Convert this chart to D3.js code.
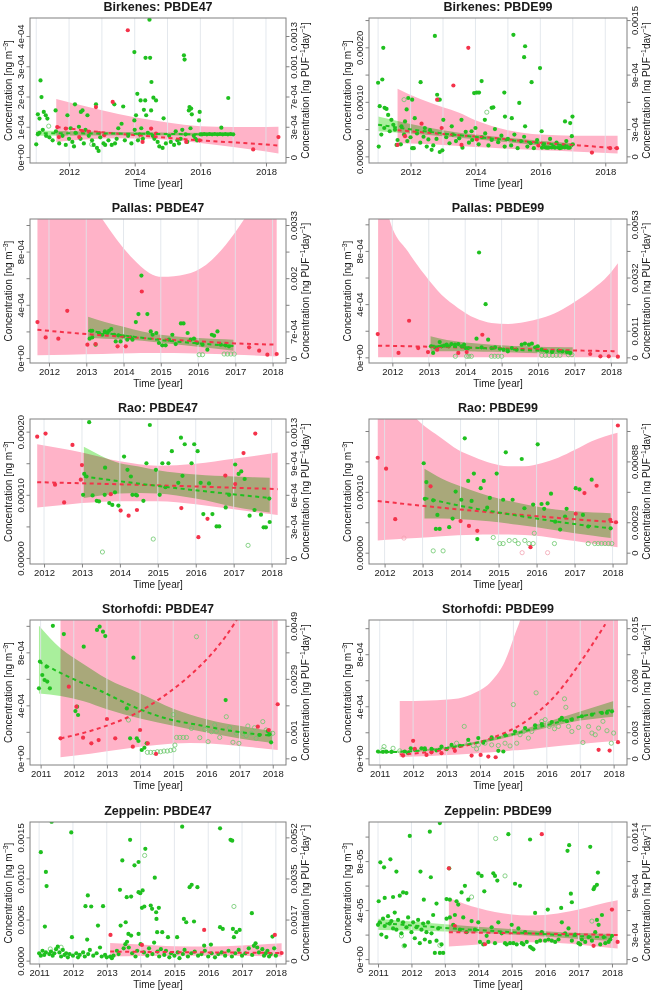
<!DOCTYPE html>
<html><head><meta charset="utf-8">
<script src="https://cdn.jsdelivr.net/npm/d3@7"></script>
<style>body{margin:0;background:#fff}svg{display:block}text{font-family:"Liberation Sans",Arial,sans-serif}</style>
</head><body><svg id="c" width="651" height="992"></svg>
<script>
// ---------------- DATA (values in each panel's unit) ----------------
// Birkenes PBDE47 (unit 1e-4)
const birk47Green=[[2011.13,2.53],[2011.16,1.98],[2011.05,1.41],[2011.0,0.42],[2011.23,1.49],[2011.10,1.27],[2011.29,1.38],[2011.34,1.27],[2011.59,1.54],[2011.95,1.38],[2012.18,1.74],[2012.36,1.49],[2012.41,1.54],[2012.56,1.38],[2012.82,1.74],[2013.38,1.74],[2013.65,1.67],[2013.99,3.47],[2014.08,2.09],[2014.33,3.28],[2014.47,3.28],[2014.45,4.54],[2014.51,2.48],[2014.18,1.87],[2014.32,1.87],[2014.57,1.96],[2014.65,1.87],[2014.28,1.56],[2014.35,1.38],[2014.50,1.54],[2014.04,1.38],[2013.99,1.21],[2014.88,1.28],[2015.50,3.36],[2015.52,3.22],[2015.67,1.65],[2015.72,1.60],[2015.65,1.54],[2015.74,1.41],[2015.98,1.49],[2015.96,1.21],[2016.85,1.95],[2016.64,0.97],
[2011.05,0.75],[2011.1,0.8],[2011.2,0.9],[2011.3,0.7],[2011.4,0.65],[2011.5,0.55],[2011.6,0.85],[2011.7,0.45],[2011.8,0.7],[2011.9,0.4],[2012.0,0.6],[2012.05,0.95],[2012.1,0.5],[2012.15,0.35],[2012.2,0.8],[2012.3,1.0],[2012.35,0.6],[2012.45,0.45],[2012.5,0.9],[2012.6,0.7],[2012.7,0.55],[2012.75,0.4],[2012.85,0.3],[2012.9,0.2],[2012.95,0.65],[2013.05,0.45],[2013.1,0.4],[2013.2,0.55],[2013.3,0.4],[2013.4,0.45],[2013.45,0.6],[2013.5,0.95],[2013.6,1.1],[2013.7,0.55],[2013.8,0.7],[2013.9,0.45],[2014.0,0.9],[2014.1,0.55],[2014.15,0.75],[2014.2,0.95],[2014.25,0.6],[2014.4,0.8],[2014.55,0.7],[2014.6,0.6],[2014.7,0.5],[2014.75,0.35],[2014.85,0.3],[2014.95,0.45],[2015.05,0.7],[2015.1,0.5],[2015.2,0.4],[2015.25,0.85],[2015.3,0.55],[2015.35,0.45],[2015.4,0.6],[2015.45,0.9],[2015.55,0.75],[2015.6,0.5],[2015.7,0.95],[2015.8,0.7],[2015.85,0.6],[2015.9,0.55],[2016.0,0.75],
[2016.05,0.75],[2016.12,0.76],[2016.2,0.75],[2016.28,0.76],[2016.36,0.75],[2016.44,0.76],[2016.52,0.75],[2016.6,0.76],[2016.68,0.75],[2016.76,0.76],[2016.84,0.75],[2016.92,0.76],[2017.0,0.75]];
const birk47GreenOpen=[[2011.38,1.02],[2012.69,0.42],[2014.2,0.66]];
const birk47Red=[[2013.79,4.19],[2013.33,1.82],[2012.82,1.65],[2011.64,0.99],[2011.69,0.66],[2011.90,0.94],[2012.31,0.66],[2012.41,0.85],[2012.61,0.83],[2012.92,0.79],[2013.07,0.72],[2014.24,0.50],[2014.50,0.94],[2015.57,0.50],[2017.61,0.25],[2018.38,0.66],[2015.98,0.55],[2014.65,0.77]];
const birk47RedOpen=[];
const birk47RedLine=[[2011.62,0.99],[2013,0.82],[2014.5,0.68],[2016,0.55],[2017.5,0.45],[2018.38,0.38]];
const birk47GreenLine=[[2011.0,0.79],[2014,0.77],[2017.0,0.74]];
const birk47GreenBand=[[2011.0,0.70,0.88],[2014,0.72,0.82],[2017,0.70,0.79]];
const birk47PinkBand=[[2011.61,0.5,1.92],[2012.5,0.58,1.68],[2013.5,0.62,1.42],[2014.5,0.6,1.22],[2015.5,0.52,1.07],[2016.5,0.4,1.0],[2017.5,0.26,0.99],[2018.38,0.12,1.0]];

// Birkenes PBDE99 (unit 1e-5)
const birk99Green=[[2011.0,13.5],[2011.13,14.1],[2011.16,19.9],[2011.05,9.2],[2011.2,8.9],[2011.26,8.7],[2011.31,7.6],[2011.41,6.7],[2011.47,5.8],[2011.52,4.9],[2011.02,1.8],[2011.1,4.0],[2011.19,5.2],[2011.36,4.6],[2011.57,2.1],[2011.72,5.5],[2011.83,6.4],[2011.93,10.7],[2012.05,10.4],[2011.88,8.6],[2012.31,13.6],[2012.13,7.0],[2012.44,5.2],[2012.55,3.1],[2012.05,1.5],[2012.65,1.2],[2012.75,22.1],[2012.82,11.3],[2012.85,10.4],[2012.9,10.4],[2012.98,1.1],[2013.01,6.7],[2013.27,5.5],[2013.57,6.7],[2013.88,4.6],[2013.96,11.6],[2014.04,11.7],[2014.11,11.7],[2014.19,13.8],[2014.5,8.9],[2014.55,9.0],[2014.29,6.7],[2014.89,11.7],[2014.91,7.3],[2015.17,22.3],[2015.35,9.8],[2015.5,18.2],[2015.53,20.2],[2015.73,13.6],[2015.99,16.2],[2015.12,7.0],[2015.53,5.5],[2016.04,4.6],[2016.76,6.4],[2016.92,6.1],[2016.99,7.3],[2016.97,3.7],
[2011.6,3.0],[2011.7,2.2],[2011.8,4.0],[2011.9,2.8],[2012.0,3.5],[2012.1,1.5],[2012.2,4.2],[2012.3,2.5],[2012.4,3.6],[2012.5,1.8],[2012.6,4.8],[2012.7,2.0],[2012.8,3.2],[2012.9,0.8],[2013.1,3.5],[2013.2,2.4],[2013.3,4.0],[2013.4,2.8],[2013.5,3.3],[2013.6,1.6],[2013.7,4.5],[2013.8,2.5],[2013.9,3.0],[2014.0,5.2],[2014.1,2.2],[2014.2,3.5],[2014.3,4.2],[2014.4,2.0],[2014.5,3.0],[2014.6,5.0],[2014.7,2.6],[2014.8,3.8],[2014.9,1.8],[2015.0,3.2],[2015.1,2.0],[2015.2,4.0],[2015.3,1.5],[2015.4,2.8],[2015.5,3.6],[2015.6,1.8],[2015.7,2.4],[2015.8,1.5],[2015.9,3.0],[2016.1,2.2],[2016.2,1.6],[2016.3,3.2],[2016.4,1.8],[2016.5,2.5],[2016.6,1.5],[2016.7,2.0],[2016.8,2.8],[2016.9,1.6],[2017.0,2.2],
[2016.05,1.6],[2016.15,1.65],[2016.25,1.6],[2016.35,1.62],[2016.45,1.6],[2016.55,1.62],[2016.65,1.6],[2016.75,1.62],[2016.85,1.6]];
const birk99GreenOpen=[[2011.8,10.4],[2014.35,8.1]];
const birk99Red=[[2013.78,19.9],[2013.32,13.0],[2012.82,10.4],[2011.6,2.1],[2011.83,3.7],[2012.34,6.0],[2012.96,5.2],[2013.57,2.1],[2014.04,3.1],[2015.94,2.0],[2017.59,0.7],[2018.15,1.5],[2018.36,1.5]];
const birk99RedOpen=[];
const birk99RedLine=[[2011.6,4.8],[2013,4.1],[2014.5,3.4],[2016,2.5],[2017.2,2.0],[2018.36,1.5]];
const birk99GreenLine=[[2011,5.8],[2013,4.2],[2015,3.0],[2017,1.9]];
const birk99GreenBand=[[2011,4.6,7.3],[2013,3.7,4.8],[2015,2.6,3.4],[2017,1.4,2.4]];
const birk99PinkBand=[[2011.6,2.4,12.4],[2012.3,2.3,10.5],[2013,2.1,9.0],[2013.5,1.9,8.0],[2014,1.7,6.6],[2015,1.4,4.8],[2016,1.1,4.0],[2017,0.9,3.8],[2018.38,0.5,3.8]];

// Pallas PBDE47 (unit 1e-4)
const pal47Green=[[2013.12,2.05],[2013.16,2.05],[2013.09,1.45],[2013.16,1.55],[2013.25,1.0],[2013.34,1.88],[2013.43,1.75],[2013.5,2.0],[2013.57,1.88],[2013.61,2.05],[2013.67,2.18],[2013.75,1.75],[2013.79,1.25],[2013.86,1.7],[2013.92,1.25],[2013.99,1.63],[2014.1,1.38],[2014.19,1.55],[2014.24,1.38],[2014.33,2.7],[2014.4,3.3],[2014.48,6.2],[2014.64,3.3],[2014.73,2.0],[2014.78,1.75],[2014.88,1.88],[2014.95,1.13],[2015.04,0.95],[2015.13,0.95],[2015.22,1.38],[2015.31,1.75],[2015.4,1.05],[2015.54,2.6],[2015.61,2.6],[2015.72,1.88],[2015.8,1.38],[2015.89,1.45],[2015.98,1.13],[2016.12,1.0],[2016.25,0.63],[2016.37,1.75],[2016.43,1.68],[2016.52,2.0],[2016.61,1.0],[2016.74,0.95],[2016.83,0.88]];
const pal47GreenOpen=[[2016.03,0.25],[2016.12,0.25],[2016.7,0.3],[2016.79,0.3],[2016.88,0.3],[2016.97,0.3]];
const pal47Red=[[2011.69,2.7],[2012.49,3.55],[2011.91,1.55],[2012.25,1.45],[2013.03,1.0],[2013.25,1.05],[2013.84,0.88],[2014.06,0.88],[2014.49,5.0],[2017.37,0.8],[2017.64,0.55],[2017.86,0.25],[2018.11,0.3]];
const pal47RedOpen=[];
const pal47RedLine=[[2011.69,2.12],[2013,1.8],[2014.5,1.5],[2016,1.25],[2017,1.1],[2018.11,1.0]];
const pal47GreenLine=[[2013.05,2.05],[2014,1.7],[2015,1.35],[2016,1.1],[2016.95,0.9]];
const pal47GreenBand=[[2013.05,1.5,3.1],[2013.5,1.45,2.7],[2014,1.4,2.35],[2014.5,1.3,2.0],[2015,1.15,1.75],[2015.5,1.0,1.6],[2016,0.85,1.5],[2016.5,0.7,1.42],[2016.95,0.55,1.38]];
const pal47PinkBand=[[2011.69,0.2,20],[2012.5,0.25,15],[2013.43,0.3,10.45],[2014.24,0.35,7.5],[2014.69,0.37,6.4],[2015.04,0.37,6.1],[2015.67,0.35,6.3],[2016.21,0.32,7.0],[2016.74,0.28,8.5],[2017.24,0.22,10.45],[2018.11,0.12,15]];

// Pallas PBDE99 (unit 1e-4)
const pal99Green=[[2013.06,0.83],[2013.12,0.33],[2013.17,0.75],[2013.24,0.75],[2013.3,1.15],[2013.35,0.83],[2013.42,0.88],[2013.49,0.95],[2013.55,0.83],[2013.62,1.0],[2013.72,0.95],[2013.81,1.0],[2013.9,0.83],[2013.97,0.95],[2014.01,0.7],[2014.08,0.7],[2014.31,1.4],[2014.38,7.88],[2014.45,0.75],[2014.56,4.0],[2014.63,1.33],[2014.72,0.7],[2014.82,0.75],[2014.95,0.65],[2015.05,0.58],[2015.17,0.45],[2015.28,0.7],[2015.41,0.58],[2015.55,0.95],[2015.64,1.03],[2015.75,0.95],[2015.83,1.03],[2015.92,0.75],[2015.99,0.83],[2016.1,0.58],[2016.24,0.45],[2016.38,0.4],[2016.56,0.5],[2016.67,0.45],[2016.79,0.4],[2016.88,0.33]];
const pal99GreenOpen=[[2013.73,0.08],[2014.04,0.08],[2014.1,0.08],[2014.17,0.08],[2014.72,0.08],[2014.81,0.08],[2014.9,0.08],[2015.0,0.08],[2016.1,0.15],[2016.2,0.15],[2016.3,0.15],[2016.4,0.15],[2016.5,0.15],[2016.6,0.15],[2016.83,0.2],[2016.93,0.2]];
const pal99Red=[[2011.6,1.75],[2012.46,2.75],[2012.17,0.33],[2012.71,0.7],[2012.98,0.4],[2013.23,0.58],[2013.81,0.33],[2014.04,0.4],[2014.47,1.7],[2017.43,0.25],[2017.71,0.08],[2017.94,0.08],[2018.19,0.05]];
const pal99RedOpen=[];
const pal99RedLine=[[2011.61,0.88],[2013,0.8],[2014.5,0.7],[2016,0.6],[2017,0.52],[2018.17,0.46]];
const pal99GreenLine=[[2013.05,0.88],[2014,0.75],[2015,0.62],[2016,0.5],[2016.95,0.42]];
const pal99GreenBand=[[2013.05,0.45,1.58],[2013.5,0.45,1.3],[2014,0.45,1.12],[2014.5,0.42,1.0],[2015,0.4,0.9],[2015.5,0.35,0.85],[2016,0.3,0.8],[2016.5,0.25,0.77],[2016.95,0.18,0.75]];
const pal99PinkBand=[[2011.61,0,16],[2011.93,0,10.3],[2012.43,0,7.95],[2012.89,0,6.2],[2013.35,0,4.7],[2013.81,0,3.7],[2014.27,0,2.95],[2014.72,0,2.58],[2015.18,0,2.5],[2015.64,0,2.65],[2016.1,0,2.95],[2016.56,0,3.45],[2017.02,0,4.2],[2017.48,0,5.08],[2017.94,0,6.2],[2018.19,0,7.08]];

// Rao PBDE47 (unit 1e-5)
const rao47Green=[[2013.19,21.5],[2014.79,21.05],[2015.61,19.05],[2015.37,16.9],[2015.71,18.0],[2015.96,18.0],[2016.05,16.9],[2014.11,16.05],[2014.7,15.0],[2015.12,15.0],[2015.28,15.0],[2015.65,13.0],[2015.89,15.0],[2017.04,14.8],[2017.13,13.3],[2017.2,13.7],[2017.29,12.5],[2013.61,14.3],[2013.06,13.3],[2013.12,12.9],[2013.28,9.9],[2013.39,9.05],[2013.45,8.95],[2013.72,8.7],[2013.8,8.4],[2013.87,10.4],[2013.96,8.3],[2014.2,13.95],[2014.29,12.9],[2014.33,10.0],[2014.42,10.0],[2014.62,9.05],[2014.95,13.95],[2015.05,10.0],[2015.2,11.2],[2015.54,11.9],[2016.13,11.9],[2016.2,6.95],[2016.35,11.8],[2016.44,6.95],[2016.55,5.0],[2016.62,5.0],[2016.79,8.0],[2016.88,10.0],[2017.42,6.7],[2017.55,7.6],[2017.72,6.85],[2017.79,4.85],[2017.85,4.85],[2017.95,5.7],[2017.94,9.4],[2013.03,10.0],[2013.6,10.0],[2014.45,9.9]];
const rao47GreenOpen=[[2013.54,0.95],[2014.88,3.0],[2017.38,2.0]];
const rao47Red=[[2011.82,19.2],[2012.04,19.7],[2012.75,17.9],[2012.29,11.6],[2012.53,8.8],[2012.97,12.4],[2013.0,14.7],[2013.76,10.1],[2014.02,7.5],[2014.23,6.7],[2014.45,7.6],[2015.62,7.9],[2016.07,3.3],[2016.31,6.2],[2016.78,13.05],[2017.26,16.6],[2017.57,19.7],[2017.04,11.7]];
const rao47RedOpen=[];
const rao47RedLine=[[2011.82,12.0],[2015,11.5],[2018.16,10.9]];
const rao47GreenLine=[[2013.05,12.9],[2015,11.4],[2017.95,9.5]];
const rao47GreenBand=[[2013.05,9.5,17.6],[2013.5,9.9,16.2],[2014,10.2,15.0],[2014.5,10.3,14.5],[2015,10.2,13.9],[2015.5,9.9,13.5],[2016,9.4,13.2],[2016.5,8.8,13.0],[2017,8.1,12.9],[2017.5,7.6,12.8],[2017.95,7.2,12.7]];
const rao47PinkBand=[[2011.82,8.0,18.0],[2012.5,8.4,17.3],[2013,8.7,16.7],[2014,9.0,15.3],[2015,9.0,14.6],[2016,8.5,14.9],[2017,7.7,15.7],[2018.16,6.8,16.7]];

// Rao PBDE99 (unit 1e-5)
const rao99Green=[[2013.03,14.7],[2013.1,11.6],[2014.11,18.8],[2016.03,17.8],[2015.19,16.5],[2015.61,15.4],[2013.06,8.85],[2013.28,8.6],[2013.39,6.2],[2013.35,3.9],[2013.45,3.9],[2013.7,4.2],[2013.79,5.6],[2013.87,10.05],[2014.02,8.7],[2014.2,11.8],[2014.35,13.0],[2014.29,8.5],[2014.44,2.24],[2014.53,10.6],[2014.61,11.8],[2014.7,7.4],[2014.77,9.0],[2014.95,13.0],[2015.12,8.7],[2015.37,8.7],[2015.68,7.3],[2015.91,7.9],[2016.13,8.0],[2016.2,7.2],[2016.29,8.1],[2016.38,9.7],[2016.62,3.8],[2016.49,5.1],[2016.75,5.95],[2016.79,7.2],[2017.03,10.6],[2017.13,10.4],[2017.22,6.2],[2017.45,12.0],[2017.36,4.3],[2017.95,4.0]];
const rao99GreenOpen=[[2013.28,0.3],[2013.54,0.3],[2014.86,2.5],[2015.03,1.5],[2015.12,1.5],[2015.28,2.0],[2015.43,2.0],[2015.52,1.5],[2015.69,2.0],[2015.8,1.5],[2015.91,1.5],[2015.94,3.2],[2016.47,1.5],[2017.36,1.5],[2017.53,1.5],[2017.62,1.5],[2017.71,1.5],[2017.8,1.5],[2017.89,1.5],[2017.98,1.5]];
const rao99Red=[[2011.82,15.6],[2012.04,13.8],[2012.28,5.5],[2013.21,10.9],[2014.0,5.2],[2014.22,4.4],[2014.44,3.6],[2015.84,0.9],[2017.26,9.8],[2017.58,11.0],[2017.03,6.4],[2017.94,5.4],[2018.09,5.0],[2018.14,20.9]];
const rao99RedOpen=[[2012.51,2.4],[2015.62,0.0],[2016.29,0.0]];
const rao99RedLine=[[2011.82,8.5],[2013,7.7],[2014.5,6.8],[2016,6.0],[2017,5.5],[2018.1,5.0]];
const rao99GreenLine=[[2013.05,9.0],[2014,7.7],[2015,6.6],[2016,5.6],[2017,4.7],[2017.95,4.0]];
const rao99GreenBand=[[2013.05,5.6,13.8],[2013.5,5.6,12.2],[2014,5.5,10.9],[2014.5,5.3,9.8],[2015,5.0,8.9],[2015.5,4.6,8.2],[2016,4.2,7.6],[2016.5,3.7,7.1],[2017,3.2,6.8],[2017.5,2.8,6.6],[2017.95,2.4,6.5]];
const rao99PinkBand=[[2011.82,2.0,30],[2012.3,2.2,26],[2012.84,2.4,22.0],[2013.5,2.7,18.8],[2013.93,2.85,16.9],[2014.37,2.95,15.7],[2014.81,3.0,14.7],[2015.25,3.0,14.2],[2015.69,2.9,14.2],[2016.13,2.7,14.7],[2016.57,2.3,15.6],[2017.01,1.9,16.9],[2017.45,1.5,18.3],[2018.13,0.9,19.7]];

// Storhofdi PBDE47 (unit 1e-4)
const stor47Green=[[2010.95,5.28],[2010.98,7.3],[2011.05,6.29],[2011.12,5.91],[2011.2,5.79],[2011.28,5.28],[2011.37,10.0],[2011.7,9.38],[2011.18,6.92],[2012.3,8.43],[2012.7,9.69],[2012.78,9.94],[2012.88,9.56],[2012.95,9.23],[2012.05,3.57],[2012.1,3.9],[2012.13,3.27],[2013.8,7.6],[2014.05,0.63],[2014.13,0.8],[2014.2,1.13],[2016.58,4.4],[2017.6,1.76],[2017.9,1.81],[2017.95,1.21],[2017.85,2.06],[2013.6,3.77],[2013.7,1.51],[2013.9,1.51],[2013.95,1.31]];
const stor47GreenOpen=[[2013.65,2.89],[2014.22,0.45],[2014.32,0.45],[2014.42,0.45],[2014.52,0.5],[2014.62,0.5],[2014.72,0.55],[2014.82,0.55],[2014.92,0.6],[2015.02,0.65],[2015.05,1.0],[2015.1,1.58],[2015.2,1.58],[2015.3,1.58],[2015.4,1.58],[2015.55,2.26],[2015.7,9.18],[2015.8,1.56],[2015.95,2.19],[2016.05,1.26],[2016.15,2.01],[2016.25,2.52],[2016.3,2.06],[2016.4,1.58],[2016.6,3.14],[2016.7,2.31],[2016.8,1.21],[2016.9,1.89],[2016.98,1.13],[2017.1,1.89],[2017.2,1.71],[2017.25,2.44],[2017.35,1.89],[2017.45,2.31],[2017.5,1.51],[2017.7,2.77],[2017.8,2.14],[2018.0,1.89],[2015.0,3.3]];
const stor47Red=[[2011.6,1.51],[2011.85,5.41],[2012.08,3.9],[2012.28,1.56],[2012.53,1.13],[2012.75,1.38],[2013.0,2.97],[2013.25,1.51],[2013.78,0.88],[2014.0,2.14],[2014.23,1.13],[2014.48,0.33],[2017.55,2.39],[2017.88,2.14],[2018.15,4.08]];
const stor47RedOpen=[];
const stor47RedLine=[[2011.6,1.5],[2012.8,2.3],[2013.8,3.3],[2014.8,4.85],[2015.8,6.95],[2016.3,8.3],[2016.85,10.2],[2017.3,12.2]];
const stor47GreenLine=[[2010.95,7.3],[2011.8,6.2],[2012.8,5.1],[2013.8,3.9],[2014.8,3.0],[2015.8,2.5],[2016.8,2.05],[2018,1.7]];
const stor47GreenBand=[[2010.95,4.9,10.0],[2011.6,4.7,8.3],[2012.3,4.3,7.1],[2013,3.7,6.0],[2014,3.0,4.9],[2015,2.45,3.75],[2016,1.95,2.95],[2017,1.5,2.45],[2018,1.15,2.05]];
const stor47PinkBand=[[2011.6,0.08,20],[2012.5,0.35,20],[2013.5,0.7,20],[2014.5,1.0,20],[2015.5,1.15,20],[2016.5,1.05,20],[2017.3,0.85,20],[2018.15,0.63,20]];

// Storhofdi PBDE99 (unit 1e-5)
const stor99Green=[[2010.95,5.2],[2011.1,5.0],[2011.2,5.1],[2011.35,4.9],[2011.75,5.2],[2011.85,3.9],[2012.25,7.7],[2011.93,7.7],[2012.05,6.5],[2012.35,7.7],[2012.55,7.2],[2012.85,9.0],[2013.15,10.3],[2013.65,14.2],[2013.95,15.5],[2014.35,16.0],[2014.75,18.1],[2015.05,20.6],[2015.35,23.2],[2015.65,25.3],[2015.85,26.3],[2016.15,27.9],[2016.4,29.7],[2016.45,31.0],[2016.75,29.7],[2017.05,32.3],[2017.35,33.5],[2017.65,34.8],[2017.95,36.1],[2014.55,5.7],[2014.7,5.2],[2012.7,6.0],[2013.0,7.0],[2013.4,9.5],[2014.1,12.0],[2016.6,28.5],[2017.8,35.0]];
const stor99GreenOpen=[[2011.1,6.5],[2011.13,9.0],[2011.4,7.7],[2011.6,5.7],[2013.3,11.6],[2013.53,24.5],[2015.0,41.3],[2015.68,50.3],[2015.75,24.5],[2015.85,28.4],[2015.95,29.7],[2016.07,24.5],[2016.23,22.7],[2016.35,24.5],[2016.53,45.7],[2016.57,39.2],[2016.65,24.5],[2016.75,20.6],[2016.95,23.7],[2017.08,12.1],[2017.25,24.5],[2017.35,19.4],[2017.45,18.1],[2017.55,23.2],[2017.68,28.4],[2017.8,21.2],[2017.93,11.6],[2018.0,19.4],[2014.15,11.6],[2014.35,10.3],[2014.55,9.8],[2014.75,11.6],[2014.9,9.5],[2015.1,11.6],[2015.2,18.1],[2015.3,20.6],[2015.45,15.5],[2015.55,20.6],[2013.65,11.6],[2013.8,9.8],[2013.95,10.3],[2013.9,7.2]];
const stor99Red=[[2012.0,13.4],[2011.7,2.1],[2012.05,7.2],[2012.4,2.6],[2012.55,4.6],[2012.85,3.9],[2013.25,5.7],[2013.75,2.1],[2014.02,2.6],[2014.25,1.3],[2014.47,0.8],[2017.55,6.5],[2017.88,5.9],[2018.13,12.4]];
const stor99RedOpen=[];
const stor99RedLine=[[2011.6,3.0],[2012.35,4.5],[2013.35,8.5],[2014.35,15.5],[2015.35,28],[2015.85,38],[2016.35,51],[2016.85,68],[2017.35,87],[2017.75,103]];
const stor99GreenLine=[[2010.95,4.6],[2012,5.5],[2013,8.0],[2014,12.5],[2015,18.5],[2016,25.5],[2017,32],[2018,37.5]];
const stor99GreenBand=[[2010.95,3.8,5.6],[2012,4.8,6.4],[2013,7.2,8.9],[2014,11.6,13.5],[2015,17.2,19.8],[2016,23.5,27.8],[2017,29,36],[2018,32,44]];
const stor99PinkBand=[[2011.6,1.0,44],[2012.5,1.8,44.5],[2013.35,3.0,46],[2013.85,3.7,50.3],[2014.35,4.6,59.4],[2014.75,5.4,74.8],[2015.05,6.1,95.5],[2015.2,6.4,106],[2015.6,7.4,150],[2016,8.5,200],[2017,11,300],[2018.13,13.4,400]];

// Zeppelin PBDE47 (unit 1e-4)
const zep47Green=[[2011.05,13.2],[2011.2,10.8],[2011.22,9.07],[2011.17,4.15],[2011.37,16.9],[2011.95,15.6],[2011.97,2.85],[2012.44,7.93],[2012.37,6.63],[2012.54,6.59],[2012.74,4.27],[2012.89,6.63],[2012.42,2.56],[2013.39,8.62],[2013.46,12.2],[2013.41,4.27],[2013.59,7.72],[2013.69,14.7],[2013.72,7.8],[2013.82,11.6],[2013.94,12.0],[2013.94,8.33],[2013.99,8.21],[2014.06,8.54],[2014.04,6.42],[2014.11,6.59],[2014.14,13.6],[2014.3,6.71],[2014.34,6.3],[2014.42,10.1],[2014.46,5.89],[2014.47,5.08],[2014.54,6.42],[2014.49,3.46],[2013.64,3.25],[2013.56,4.67],[2013.72,3.05],[2013.94,3.25],[2015.28,5.08],[2015.35,4.67],[2015.23,16.3],[2015.45,8.94],[2015.51,9.23],[2015.58,4.76],[2015.68,8.94],[2016.35,16.1],[2016.35,4.07],[2016.43,3.86],[2016.66,14.7],[2016.71,14.6],[2016.73,3.86],[2016.76,2.85],[2016.83,3.46],[2016.93,3.74],[2017.29,5.77],[2017.9,2.93],[2015.88,1.83],[2016.08,1.95],[2015.08,2.85],[2014.81,2.85],[2014.64,3.46],
[2011.0,0.9],[2011.05,0.6],[2011.1,1.2],[2011.15,0.7],[2011.2,1.0],[2011.3,0.8],[2011.35,1.1],[2011.4,0.6],[2011.45,0.9],[2011.5,1.4],[2011.55,1.7],[2011.6,1.0],[2011.65,0.5],[2011.7,1.3],[2011.75,0.7],[2011.8,0.9],[2011.85,0.4],[2011.9,0.8],[2012.0,0.6],[2012.1,0.9],[2012.15,0.4],[2012.2,0.7],[2012.3,1.0],[2012.35,0.5],[2012.45,0.8],[2012.5,1.3],[2012.6,0.6],[2012.7,0.9],[2012.8,1.6],[2012.85,0.5],[2012.95,0.7],[2013.0,0.4],[2013.1,0.5],[2013.15,0.3],[2013.2,0.6],[2013.3,1.2],[2013.35,0.8],[2013.5,1.5],[2013.55,2.0],[2013.6,2.3],[2013.65,1.6],[2013.75,0.9],[2013.85,0.5],[2013.9,1.2],[2014.0,2.0],[2014.1,1.0],[2014.2,0.6],[2014.25,1.5],[2014.35,0.8],[2014.4,2.2],[2014.5,1.1],[2014.55,0.5],[2014.6,1.4],[2014.7,0.7],[2014.75,1.2],[2014.85,0.4],[2014.9,0.9],[2015.0,0.6],[2015.1,1.0],[2015.15,0.3],[2015.25,0.8],[2015.3,1.3],[2015.4,0.5],[2015.5,0.9],[2015.6,1.1],[2015.7,0.6],[2015.8,0.8],[2015.9,1.2],[2016.0,0.5],[2016.1,0.9],[2016.2,0.4],[2016.3,0.8],[2016.4,1.0],[2016.5,0.6],[2016.6,1.2],[2016.7,0.5],[2016.8,0.9],[2016.9,1.3],[2017.0,0.6],[2017.1,0.9],[2017.2,1.5],[2017.3,0.7],[2017.35,1.8],[2017.4,2.1],[2017.45,1.6],[2017.5,1.0],[2017.6,1.4],[2017.65,0.6],[2017.7,0.9],[2017.75,1.2],[2017.8,0.5],[2017.85,0.8],[2017.95,1.5],[2018.0,0.6]];
const zep47GreenOpen=[[2011.33,1.42],[2011.65,1.63],[2014.12,12.8],[2016.76,6.59]];
const zep47Red=[[2013.11,3.13],[2014.04,1.91],[2015.88,3.74],[2017.97,3.13],[2018.17,0.93]];
const zep47RedOpen=[];
const zep47RedLine=[[2013.1,1.1],[2018.17,0.93]];
const zep47GreenLine=[];
const zep47GreenBand=[];
const zep47PinkBand=[[2013.1,0.5,2.15],[2014,0.55,1.95],[2015,0.6,1.75],[2016,0.6,1.72],[2017,0.57,1.85],[2018.17,0.5,2.1]];

// Zeppelin PBDE99 (unit 1e-5)
const zep99Green=[[2011.02,4.72],[2011.07,7.9],[2011.18,7.49],[2011.2,4.99],[2011.37,8.14],[2011.45,5.07],[2011.55,7.14],[2011.65,5.18],[2011.75,5.44],[2011.85,5.39],[2011.95,10.05],[2012.27,7.14],[2012.37,4.85],[2012.55,10.4],[2012.58,6.68],[2012.75,4.53],[2012.85,11.1],[2013.13,7.41],[2013.05,4.9],[2013.15,4.85],[2013.35,4.72],[2013.4,4.45],[2013.5,5.44],[2013.6,5.98],[2013.7,4.85],[2014.0,7.0],[2014.1,6.79],[2014.18,5.53],[2014.45,7.0],[2014.5,6.79],[2014.57,6.41],[2014.9,10.2],[2015.1,6.15],[2015.25,5.98],[2015.55,9.76],[2015.7,3.77],[2016.08,4.04],[2016.48,4.18],[2016.67,8.84],[2016.72,9.3],[2016.77,5.34],[2016.8,4.64],[2017.35,9.16],[2017.45,5.71],[2017.48,5.88],[2017.55,6.06],[2017.58,7.06],
[2011.0,2.8],[2011.05,3.0],[2011.1,2.0],[2011.15,3.3],[2011.2,2.7],[2011.25,1.8],[2011.3,3.5],[2011.35,2.9],[2011.4,3.1],[2011.45,2.5],[2011.5,3.8],[2011.55,2.4],[2011.6,3.2],[2011.7,2.1],[2011.75,3.0],[2011.8,1.1],[2011.85,2.6],[2011.9,3.4],[2012.0,2.2],[2012.05,3.0],[2012.1,1.7],[2012.15,2.6],[2012.2,3.2],[2012.25,1.3],[2012.3,2.4],[2012.35,2.9],[2012.4,1.6],[2012.45,2.2],[2012.5,3.0],[2012.55,1.4],[2012.6,2.1],[2012.65,3.6],[2012.7,0.5],[2012.75,1.5],[2012.8,2.5],[2012.85,0.5],[2012.9,1.2],[2012.95,0.5],[2013.05,3.3],[2013.15,3.4],[2013.25,2.8],[2013.3,3.6],[2013.45,2.4],[2013.55,3.4],[2013.65,2.2],[2013.8,3.1],[2013.9,2.4],[2014.0,3.0],[2014.05,1.4],[2014.15,1.2],[2014.25,1.9],[2014.3,1.4],[2014.4,2.6],[2014.5,1.3],[2014.6,3.0],[2014.7,2.1],[2014.8,1.3],[2014.85,1.2],[2014.95,1.3],[2015.0,2.8],[2015.05,1.3],[2015.15,1.2],[2015.2,2.5],[2015.3,1.3],[2015.35,1.2],[2015.4,2.2],[2015.45,1.4],[2015.55,1.0],[2015.6,0.9],[2015.65,0.8],[2015.75,1.4],[2015.85,1.5],[2015.9,2.2],[2016.0,1.5],[2016.1,1.6],[2016.2,1.5],[2016.3,1.4],[2016.4,1.6],[2016.5,3.0],[2016.6,2.1],[2016.7,2.5],[2016.8,1.5],[2016.9,2.0],[2017.0,1.3],[2017.05,1.2],[2017.1,1.6],[2017.2,1.4],[2017.3,1.8],[2017.4,1.5],[2017.5,2.2],[2017.55,3.2],[2017.6,2.8],[2017.65,1.2],[2017.7,3.6],[2017.75,1.8],[2017.8,1.3],[2017.9,1.4],[2017.95,1.6],[2018.0,1.9]];
const zep99GreenOpen=[[2011.7,1.89],[2011.78,1.08],[2013.8,5.07],[2014.52,9.84],[2014.8,6.79],[2012.85,1.13],[2017.4,3.1]];
const zep99Red=[[2013.12,7.41],[2013.3,2.7],[2014.2,1.21],[2015.9,10.2],[2017.45,1.08],[2018.0,4.04],[2018.17,1.4]];
const zep99RedOpen=[];
const zep99RedLine=[[2013.12,2.2],[2018.17,1.97]];
const zep99GreenLine=[[2011,2.96],[2013,2.55],[2015,2.2],[2016.5,1.95],[2018,1.75]];
const zep99GreenBand=[[2011,2.37,3.29],[2013,2.25,2.85],[2015,2.0,2.45],[2016.5,1.75,2.2],[2018,1.48,2.05]];
const zep99PinkBand=[[2013.12,1.02,4.99],[2013.6,1.12,4.5],[2014,1.2,4.17],[2014.5,1.3,3.85],[2015,1.35,3.65],[2015.5,1.38,3.56],[2016,1.38,3.6],[2016.5,1.3,3.78],[2017,1.2,4.05],[2017.5,1.05,4.4],[2018.17,0.86,4.8]];

// Axis tick values and labels
const evenYears=[2012,2014,2016,2018];
const yearsA=[2012,2013,2014,2015,2016,2017,2018];
const yearsB=[2011,2012,2013,2014,2015,2016,2017,2018];

const panels=[
 {title:"Birkenes: PBDE47",col:0,row:0,unit:1e-4,xd:[2010.81,2018.61],yd:[-0.198,4.595],xt:evenYears,yt:[0,1,2,3,4],yl:["0e+00","1e-04","2e-04","3e-04","4e-04"],rl:["0","3e-04","7e-04","0.001","0.0013"],
  green:birk47Green,gOpen:birk47GreenOpen,red:birk47Red,rOpen:birk47RedOpen,rLine:birk47RedLine,gLine:birk47GreenLine,gBand:birk47GreenBand,pBand:birk47PinkBand},
 {title:"Birkenes: PBDE99",col:1,row:0,unit:1e-5,xd:[2010.72,2018.67],yd:[-1.22,25.38],xt:evenYears,yt:[0,5,10,15,20,25],yl:["0.00000","","0.00010","","0.00020",""],rl:["0","3e-04","","9e-04","","0.0015"],
  green:birk99Green,gOpen:birk99GreenOpen,red:birk99Red,rOpen:birk99RedOpen,rLine:birk99RedLine,gLine:birk99GreenLine,gBand:birk99GreenBand,pBand:birk99PinkBand},
 {title:"Pallas: PBDE47",col:0,row:1,unit:1e-4,xd:[2011.49,2018.36],yd:[-0.375,10.45],xt:yearsA,yt:[0,2,4,6,8,10],yl:["0e+00","","4e-04","","8e-04",""],rl:["0","7e-04","","0.002","","0.0033"],
  green:pal47Green,gOpen:pal47GreenOpen,red:pal47Red,rOpen:pal47RedOpen,rLine:pal47RedLine,gLine:pal47GreenLine,gBand:pal47GreenBand,pBand:pal47PinkBand},
 {title:"Pallas: PBDE99",col:1,row:1,unit:1e-4,xd:[2011.36,2018.44],yd:[-0.425,10.4],xt:yearsA,yt:[0,2,4,6,8,10],yl:["0e+00","","4e-04","","8e-04",""],rl:["0","0.0011","","0.0032","","0.0053"],
  green:pal99Green,gOpen:pal99GreenOpen,red:pal99Red,rOpen:pal99RedOpen,rLine:pal99RedLine,gLine:pal99GreenLine,gBand:pal99GreenBand,pBand:pal99PinkBand},
 {title:"Rao: PBDE47",col:0,row:2,unit:1e-5,xd:[2011.63,2018.38],yd:[-0.95,22.0],xt:yearsA,yt:[0,5,10,15,20],yl:["0.00000","","0.00010","","0.00020"],rl:["0","3e-04","6e-04","9e-04","0.0013"],
  green:rao47Green,gOpen:rao47GreenOpen,red:rao47Red,rOpen:rao47RedOpen,rLine:rao47RedLine,gLine:rao47GreenLine,gBand:rao47GreenBand,pBand:rao47PinkBand},
 {title:"Rao: PBDE99",col:1,row:2,unit:1e-5,xd:[2011.59,2018.38],yd:[-1.86,21.97],xt:yearsA,yt:[0,5,10,15,20],yl:["0.00000","","0.00010","",""],rl:["0","0.00029","","0.00088",""],
  green:rao99Green,gOpen:rao99GreenOpen,red:rao99Red,rOpen:rao99RedOpen,rLine:rao99RedLine,gLine:rao99GreenLine,gBand:rao99GreenBand,pBand:rao99PinkBand},
 {title:"Storhofdi: PBDE47",col:0,row:3,unit:1e-4,xd:[2010.68,2018.40],yd:[-0.503,10.44],xt:yearsB,yt:[0,2,4,6,8,10],yl:["0e+00","","4e-04","","8e-04",""],rl:["0","0.001","","0.0029","","0.0049"],
  green:stor47Green,gOpen:stor47GreenOpen,red:stor47Red,rOpen:stor47RedOpen,rLine:stor47RedLine,gLine:stor47GreenLine,gBand:stor47GreenBand,pBand:stor47PinkBand},
 {title:"Storhofdi: PBDE99",col:1,row:3,unit:1e-5,xd:[2010.68,2018.40],yd:[-5.16,106.3],xt:yearsB,yt:[0,20,40,60,80,100],yl:["0e+00","","4e-04","","8e-04",""],rl:["0","0.003","","0.009","","0.015"],
  green:stor99Green,gOpen:stor99GreenOpen,red:stor99Red,rOpen:stor99RedOpen,rLine:stor99RedLine,gLine:stor99GreenLine,gBand:stor99GreenBand,pBand:stor99PinkBand},
 {title:"Zeppelin: PBDE47",col:0,row:4,unit:1e-4,xd:[2010.73,2018.30],yd:[-0.41,16.87],xt:yearsB,yt:[0,5,10,15],yl:["0.0000","0.0005","0.0010","0.0015"],rl:["0","0.0017","0.0035","0.0052"],
  green:zep47Green,gOpen:zep47GreenOpen,red:zep47Red,rOpen:zep47RedOpen,rLine:zep47RedLine,gLine:zep47GreenLine,gBand:zep47GreenBand,pBand:zep47PinkBand},
 {title:"Zeppelin: PBDE99",col:1,row:4,unit:1e-5,xd:[2010.73,2018.45],yd:[-0.40,11.19],xt:yearsB,yt:[0,2,4,6,8,10],yl:["0e+00","","4e-05","","8e-05",""],rl:["0","3e-04","","9e-04","","0.0014"],
  green:zep99Green,gOpen:zep99GreenOpen,red:zep99Red,rOpen:zep99RedOpen,rLine:zep99RedLine,gLine:zep99GreenLine,gBand:zep99GreenBand,pBand:zep99PinkBand}
];

// ---------------- LAYOUT / STYLE ----------------
const colX=[[30,286],[369,627]];
const rowY=[[18,163],[219,363],[419,564],[620,765],[822,964]];
const C={green:"#1fc01f",greenOpen:"#6cc86c",red:"#f4324a",redOpen:"#f2a3b3",pink:"#ffb3c8",lgreen:"#a9ef9c",grid:"#dfe4ea",box:"#808080",text:"#1a1a1a"};

const svg=d3.select("#c");

function rotTitle(g,cx,cy,parts){
  const t=g.append("text").attr("transform",`translate(${cx},${cy}) rotate(-90)`).attr("text-anchor","middle").attr("dy","0.35em").attr("font-size",10).attr("fill",C.text);
  let back=0;
  parts.forEach(([s,sup])=>{
    const ts=t.append("tspan").text(s);
    if(sup){ts.attr("dy",-4).attr("font-size",7);back=4;}
    else if(back){ts.attr("dy",back);back=0;}
  });
}

panels.forEach((p,i)=>{
  const [x0,x1]=colX[p.col],[y0,y1]=rowY[p.row];
  const u=p.unit;
  const x=d3.scaleLinear().domain(p.xd).range([x0,x1]);
  const y=d3.scaleLinear().domain([p.yd[0]*u,p.yd[1]*u]).range([y1,y0]);
  const g=svg.append("g");
  g.append("clipPath").attr("id","cl"+i).append("rect").attr("x",x0).attr("y",y0).attr("width",x1-x0).attr("height",y1-y0);

  const inner=g.append("g").attr("clip-path",`url(#cl${i})`);
  const bands=inner.append("g").style("isolation","isolate");
  const area=d3.area().x(d=>x(d[0])).y0(d=>y(d[1]*u)).y1(d=>y(d[2]*u)).curve(d3.curveMonotoneX);
  if(p.pBand.length) bands.append("path").attr("d",area(p.pBand)).attr("fill",C.pink).style("mix-blend-mode","multiply");
  if(p.gBand.length) bands.append("path").attr("d",area(p.gBand)).attr("fill",C.lgreen).style("mix-blend-mode","multiply");
  const yrs=d3.range(Math.ceil(p.xd[0]),Math.floor(p.xd[1])+1);
  inner.append("g").selectAll("line").data(yrs).join("line")
    .attr("x1",d=>x(d)).attr("x2",d=>x(d)).attr("y1",y0).attr("y2",y1)
    .attr("stroke",C.grid).attr("stroke-width",1).attr("opacity",0.85);
  inner.append("g").selectAll("circle").data(p.gOpen).join("circle")
    .attr("cx",d=>x(d[0])).attr("cy",d=>y(d[1]*u)).attr("r",2.1).attr("fill","none").attr("stroke",C.greenOpen).attr("stroke-width",0.8);
  inner.append("g").selectAll("circle").data(p.rOpen).join("circle")
    .attr("cx",d=>x(d[0])).attr("cy",d=>y(d[1]*u)).attr("r",2.1).attr("fill","none").attr("stroke",C.redOpen).attr("stroke-width",0.8);
  inner.append("g").selectAll("circle").data(p.green).join("circle")
    .attr("cx",d=>x(d[0])).attr("cy",d=>y(d[1]*u)).attr("r",2.1).attr("fill",C.green);
  inner.append("g").selectAll("circle").data(p.red).join("circle")
    .attr("cx",d=>x(d[0])).attr("cy",d=>y(d[1]*u)).attr("r",2.1).attr("fill",C.red);
  const line=d3.line().x(d=>x(d[0])).y(d=>y(d[1]*u)).curve(d3.curveMonotoneX);
  if(p.rLine.length) inner.append("path").attr("d",line(p.rLine)).attr("fill","none").attr("stroke",C.red).attr("stroke-width",2).attr("stroke-dasharray","4,3.5");
  if(p.gLine.length) inner.append("path").attr("d",line(p.gLine)).attr("fill","none").attr("stroke",C.green).attr("stroke-width",2).attr("stroke-dasharray","4,3.5");

  g.append("rect").attr("x",x0).attr("y",y0).attr("width",x1-x0).attr("height",y1-y0).attr("fill","none").attr("stroke",C.box).attr("stroke-width",1);

  const font="'Liberation Sans',Arial,sans-serif";
  const ab=g.append("g").attr("transform",`translate(0,${y1})`)
    .call(d3.axisBottom(x).tickValues(p.xt).tickFormat(d3.format("d")).tickSize(3.5).tickPadding(2));
  ab.select(".domain").remove();
  ab.attr("font-family",font).attr("font-size",9.5);
  ab.selectAll("line").attr("stroke",C.box);
  ab.selectAll("text").attr("fill",C.text);
  const yTickVals=p.yt.map(v=>v*u);
  const al=g.append("g").attr("transform",`translate(${x0},0)`)
    .call(d3.axisLeft(y).tickValues(yTickVals).tickFormat((d,k)=>p.yl[k]).tickSize(3.5));
  al.select(".domain").remove();
  al.attr("font-family",font).attr("font-size",9.5);
  al.selectAll("line").attr("stroke",C.box);
  al.selectAll("text").attr("x",null).attr("dy","0.35em").attr("text-anchor","middle").attr("fill",C.text)
    .attr("transform","translate(-9,0) rotate(-90)");
  al.selectAll("text").filter(function(){return !this.textContent;}).remove();
  const ar=g.append("g").attr("transform",`translate(${x1},0)`)
    .call(d3.axisRight(y).tickValues(yTickVals).tickFormat((d,k)=>p.rl[k]).tickSize(3.5));
  ar.select(".domain").remove();
  ar.attr("font-family",font).attr("font-size",9.5);
  ar.selectAll("line").attr("stroke",C.box);
  ar.selectAll("text").attr("x",null).attr("dy","0.35em").attr("text-anchor","middle").attr("fill",C.text)
    .attr("transform","translate(8,0) rotate(-90)");
  ar.selectAll("text").filter(function(){return !this.textContent;}).remove();

  const cx=(x0+x1)/2;
  g.append("text").attr("x",cx).attr("y",y0-7).attr("text-anchor","middle").attr("font-weight","bold").attr("font-size",12.5).attr("fill",C.text).text(p.title);
  g.append("text").attr("x",cx).attr("y",y1+24).attr("text-anchor","middle").attr("font-size",10).attr("fill",C.text).text("Time [year]");
  const cy=(y0+y1)/2;
  rotTitle(g,x0-22,cy,[["Concentration [ng m"],["\u22123",1],["]"]]);
  rotTitle(g,x1+19,cy,[["Concentration [ng PUF"],["\u22121",1],["day"],["\u22121",1],["]"]]);
});
</script></body></html>
